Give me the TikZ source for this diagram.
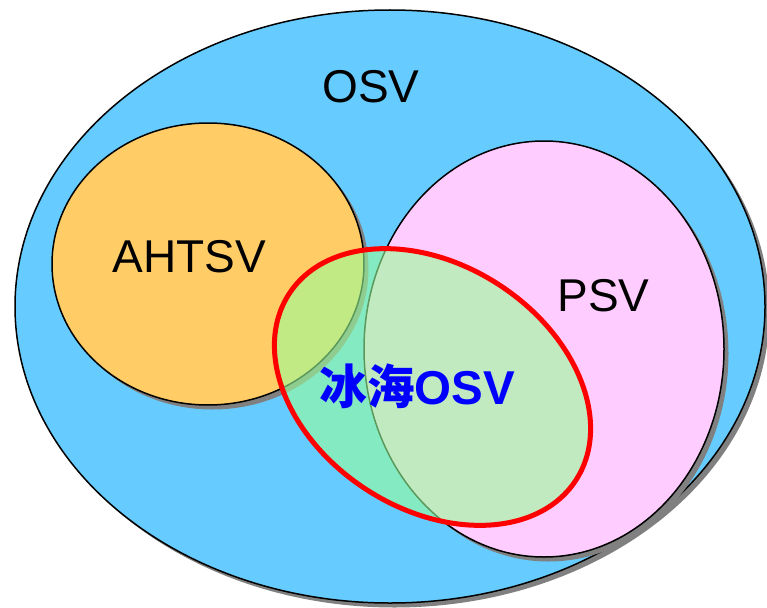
\documentclass[tikz,border=0pt]{standalone}
\usepackage{fontspec}
\setmainfont{Liberation Sans}
\newfontfamily\cjkfont{Noto Sans CJK SC}
\usetikzlibrary{shapes.geometric,shadows}
\definecolor{osvblue}{HTML}{66CCFF}
\definecolor{ahtorange}{HTML}{FFCC66}
\definecolor{psvpink}{HTML}{FFCCFF}
\definecolor{icegreen}{HTML}{99FF99}
\definecolor{shadowgray}{HTML}{808080}
\tikzset{
  setshape/.style={ellipse, draw=black, line width=1.5pt, inner sep=0pt, outer sep=0pt,
    drop shadow={shadow xshift=4.5pt, shadow yshift=-4.5pt, fill=shadowgray, opacity=1}},
  icering/.style={ellipse, draw=red, line width=5pt, inner sep=0pt, outer sep=0pt,
    fill=icegreen, fill opacity=0.6},
  biglabel/.style={font=\fontsize{46}{50}\selectfont, anchor=base, inner sep=0pt},
  icelabel/.style={font=\fontsize{47.5}{52}\selectfont\bfseries, text=blue, anchor=base, inner sep=0pt}
}
\begin{document}
\begin{tikzpicture}[x=1pt,y=-1pt]
\useasboundingbox (0,0) rectangle (767,607);
\node[setshape, fill=osvblue, minimum width=750pt, minimum height=593pt] (osv) at (390,306.5) {};
\node[setshape, fill=ahtorange, minimum width=312pt, minimum height=282pt] (ahtsv) at (208,264) {};
\node[setshape, fill=psvpink, minimum width=360pt, minimum height=416pt] (psv) at (544,349) {};
\node[icering, rotate=-33, minimum width=342pt, minimum height=244pt] (ice) at (432.5,387) {};
\node[biglabel] (osvlabel) at (371,102.7) {OSV};
\node[biglabel] (ahtsvlabel) at (189,272.3) {AHTSV};
\node[biglabel] (psvlabel) at (603.5,311) {PSV};
\node[icelabel] (icelabeltext) at (417.5,404) {{\cjkfont 冰海}OSV};
\end{tikzpicture}
\end{document}
